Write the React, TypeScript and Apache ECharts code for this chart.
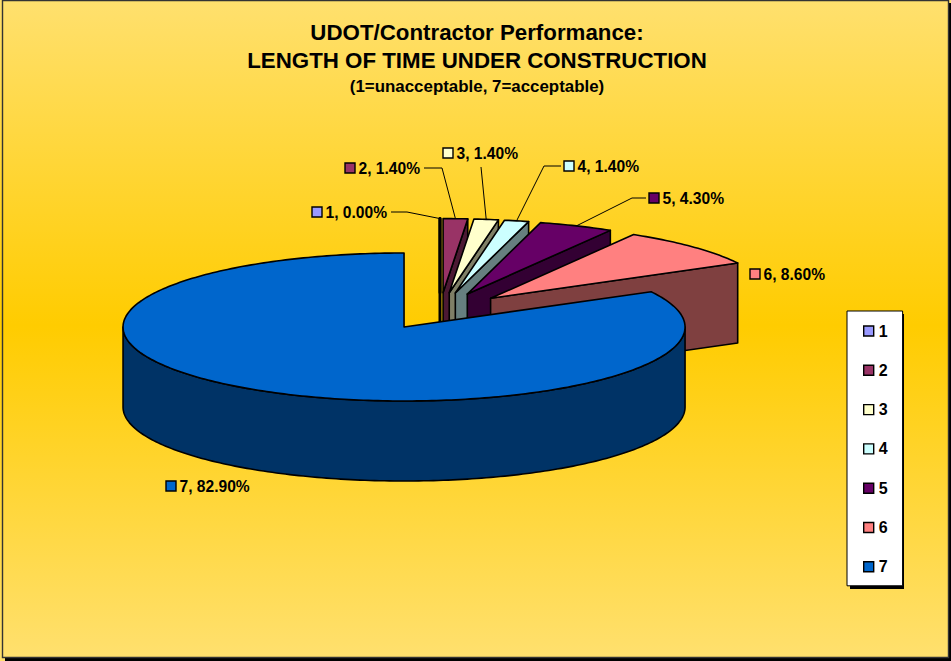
import React, { useEffect, useRef } from "react";
import * as echarts from "echarts";

const categories = ["1", "2", "3", "4", "5", "6", "7"];
const shares = [0.0, 1.4, 1.4, 1.4, 4.3, 8.6, 82.9];
const topColors = ["#9999FF", "#993366", "#FFFFCC", "#CCFFFF", "#660066", "#FF8080", "#0066CC"];
const sideColors = ["#4C4C7F", "#4C1933", "#7F7F66", "#667F7F", "#330033", "#7F4040", "#003366"];
const titleLines = "UDOT/Contractor Performance:\nLENGTH OF TIME UNDER CONSTRUCTION";
const subtitle = "(1=unacceptable, 7=acceptable)";

// Projection of the tilted, exploded pie (layout only)
const PIE = { cx: 440, cy: 311.1, rx: 281, ry: 74, depth: 80, explode: 0.25 };
const FONT = '"Liberation Sans", Arial, sans-serif';
const LABEL_SIZE = 15.6;

// Where each data label sits, with the elbow of its leader line (layout only)
const labelLayout = [
  { swatchX: 317, y: 212, leader: [[391, 212], [407, 212]] },
  { swatchX: 350, y: 168, leader: [[424, 168], [442, 168]] },
  { swatchX: 448, y: 153, leader: [[481, 167]] },
  { swatchX: 569, y: 166, leader: [[561, 166], [544, 166]] },
  { swatchX: 654, y: 198, leader: [[646, 198], [632, 198]] },
  { swatchX: 755, y: 274, leader: [] },
  { swatchX: 171, y: 486, leader: [] },
];

const rad = (d: number) => (d * Math.PI) / 180;

function sliceAngles(i: number) {
  const total = shares.reduce((a, b) => a + b, 0);
  const before = shares.slice(0, i).reduce((a, b) => a + b, 0);
  const start = (before / total) * 360;
  const end = ((before + shares[i]) / total) * 360;
  return { start, end, mid: (start + end) / 2 };
}

function sliceCenter(i: number) {
  const { mid } = sliceAngles(i);
  return [
    PIE.cx + PIE.explode * PIE.rx * Math.sin(rad(mid)),
    PIE.cy - PIE.explode * PIE.ry * Math.cos(rad(mid)),
  ];
}

function rim(c: number[], deg: number, dy = 0) {
  return [c[0] + PIE.rx * Math.sin(rad(deg)), c[1] - PIE.ry * Math.cos(rad(deg)) + dy];
}

function arc(c: number[], from: number, to: number, dy = 0) {
  const pts: number[][] = [];
  const n = Math.max(1, Math.ceil(Math.abs(to - from)));
  for (let k = 0; k <= n; k++) pts.push(rim(c, from + ((to - from) * k) / n, dy));
  return pts;
}

function makeRenderItem(i: number) {
  return () => {
    const { start, end, mid } = sliceAngles(i);
    const c = sliceCenter(i);
    // an empty slice collapses to a single heavier edge
    const line = { stroke: "#000", lineWidth: end > start ? 1.6 : 3, lineJoin: "round" };
    const children: any[] = [];

    // radial end wall, visible where the end edge faces the viewer
    if (end < 180) {
      const corner = rim(c, end);
      children.push({
        type: "polygon",
        shape: { points: [c, corner, [corner[0], corner[1] + PIE.depth], [c[0], c[1] + PIE.depth]] },
        style: { fill: sideColors[i], ...line },
      });
    }
    // outer curved wall on the near half of the pie
    const wallFrom = Math.max(start, 90);
    const wallTo = Math.min(end, 270);
    if (wallTo > wallFrom) {
      children.push({
        type: "polygon",
        shape: {
          points: [...arc(c, wallFrom, wallTo), ...arc(c, wallTo, wallFrom, PIE.depth)],
        },
        style: { fill: sideColors[i], ...line },
      });
    }
    // top face
    children.push({
      type: "polygon",
      shape: { points: [c, ...arc(c, start, end)] },
      style: { fill: topColors[i], ...line },
    });

    // leader, swatch and label
    const lay = labelLayout[i];
    if (lay.leader.length) {
      children.push({
        type: "polyline",
        shape: { points: [...lay.leader, rim(c, mid)] },
        style: { fill: null, stroke: "#000", lineWidth: 1 },
      });
    }
    children.push({
      type: "rect",
      shape: { x: lay.swatchX - 5, y: lay.y - 5, width: 10, height: 10 },
      style: { fill: topColors[i], stroke: "#000", lineWidth: 1.4 },
    });
    children.push({
      type: "text",
      style: {
        text: `${categories[i]}, ${shares[i].toFixed(2)}%`,
        x: lay.swatchX + 8.5,
        y: lay.y,
        fill: "#000",
        font: `bold ${LABEL_SIZE}px ${FONT}`,
        align: "left",
        verticalAlign: "middle",
      },
    });
    return { type: "group", children };
  };
}

export default function App() {
  const ref = useRef<HTMLDivElement>(null);
  useEffect(() => {
    const chart = echarts.init(ref.current!, null, { renderer: "svg" });
    chart.setOption({
      animation: false,
      backgroundColor: {
        type: "linear",
        x: 0,
        y: 0,
        x2: 0,
        y2: 1,
        colorStops: [
          { offset: 0, color: "#FFE06E" },
          { offset: 0.49, color: "#FFCC00" },
          { offset: 1, color: "#FFE06E" },
        ],
      },
      title: [
        {
          text: titleLines,
          left: 472,
          top: 13,
          textAlign: "center",
          textStyle: { fontFamily: FONT, fontWeight: "bold", fontSize: 22.3, lineHeight: 28, color: "#000" },
        },
        {
          text: subtitle,
          left: 472,
          top: 73,
          textAlign: "center",
          textStyle: { fontFamily: FONT, fontWeight: "bold", fontSize: 16.9, color: "#000" },
        },
      ],
      legend: {
        orient: "vertical",
        left: 847,
        top: 311,
        padding: [12, 15, 11, 16],
        itemWidth: 10,
        itemHeight: 10,
        itemGap: 23.3,
        icon: "rect",
        data: categories,
        backgroundColor: "#FFF",
        borderColor: "#000",
        borderWidth: 1,
        selectedMode: false,
        itemStyle: { borderColor: "#000", borderWidth: 1.4 },
        textStyle: { fontFamily: FONT, fontWeight: "bold", fontSize: 16, color: "#000", padding: 0 },
      },
      graphic: [
        { type: "rect", z: -2, shape: { x: 5, y: 3, width: 946, height: 658 }, style: { fill: "#000" } },
        {
          type: "rect",
          z: -1,
          shape: { x: 2.5, y: 0.5, width: 946, height: 657 },
          style: {
            stroke: "#333",
            lineWidth: 1.4,
            fill: {
              type: "linear",
              x: 0,
              y: 0,
              x2: 0,
              y2: 1,
              colorStops: [
                { offset: 0, color: "#FFE06E" },
                { offset: 0.495, color: "#FFCC00" },
                { offset: 1, color: "#FFE06E" },
              ],
            },
          },
        },
        { type: "rect", z: 0, shape: { x: 850, y: 314, width: 54, height: 275 }, style: { fill: "#000" } },
      ],
      series: categories.map((name, i) => ({
        name,
        type: "custom",
        coordinateSystem: "none",
        z: 2 + i / 10,
        itemStyle: { color: topColors[i] },
        data: [shares[i]],
        renderItem: makeRenderItem(i),
      })),
    });
    return () => chart.dispose();
  }, []);
  return <div ref={ref} style={{ position: "fixed", left: 0, top: 0, width: 951, height: 661 }} />;
}
